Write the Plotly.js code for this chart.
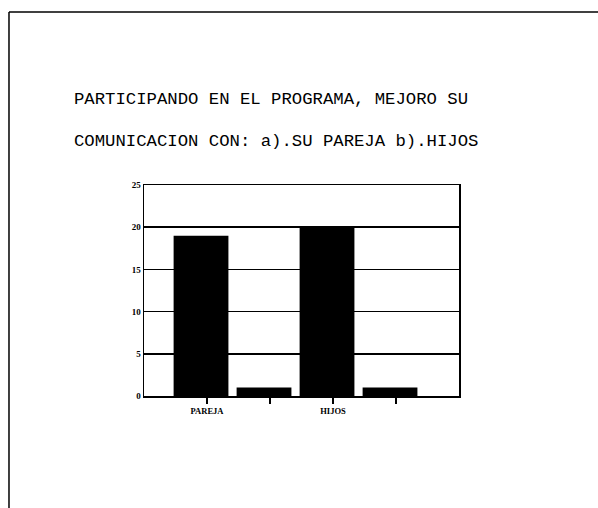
<!DOCTYPE html>
<html><head><meta charset="utf-8">
<script src="https://cdn.plot.ly/plotly-3.0.1.min.js"></script>
<style>html,body{margin:0;padding:0;background:#fff}</style>
</head><body><div id="chart" style="width:598px;height:508px"></div>
<script>
var categories = ['PAREJA', '', 'HIJOS', ''];
var values = [19, 1, 20, 1];
var positions = [0, 1, 2, 3];
var yTicks = [0, 5, 10, 15, 20, 25];
var titleLines = ['PARTICIPANDO EN EL PROGRAMA, MEJORO SU', 'COMUNICACION CON: a).SU PAREJA b).HIJOS'];

var trace = {
  type: 'bar', x: positions, y: values,
  marker: {color: '#000000', line: {color: '#000000', width: 0}},
  width: 0.87, offset: -0.53, hoverinfo: 'none'
};
var layout = {
  width: 598, height: 508,
  margin: {l: 144, r: 139, t: 185, b: 112},
  paper_bgcolor: '#ffffff', plot_bgcolor: '#ffffff',
  showlegend: false,
  xaxis: {
    range: [-1, 4], tickvals: positions, ticktext: categories,
    ticks: 'outside', ticklen: 6, tickwidth: 1.5, tickcolor: '#000',
    showgrid: false, zeroline: false,
    showline: true, mirror: true, linecolor: '#000', linewidth: 1.5,
    tickfont: {family: 'Liberation Serif', size: 8.5, color: '#000', weight: 'bold'}
  },
  yaxis: {
    range: [0, 25], tickvals: yTicks, ticks: '',
    showgrid: true, gridcolor: '#000', gridwidth: 1.5, zeroline: false,
    showline: true, mirror: true, linecolor: '#000', linewidth: 1.5,
    tickfont: {family: 'Liberation Serif', size: 9, color: '#000', weight: 'bold'}
  },
  annotations: [
    {text: titleLines[0], xref: 'paper', yref: 'paper', x: -0.2286, y: 1.403, xanchor: 'left', yanchor: 'middle', showarrow: false,
     font: {family: 'Liberation Mono', size: 17.3, color: '#000'}},
    {text: titleLines[1], xref: 'paper', yref: 'paper', x: -0.2286, y: 1.204, xanchor: 'left', yanchor: 'middle', showarrow: false,
     font: {family: 'Liberation Mono', size: 17.3, color: '#000'}}
  ],
  shapes: [
    {type: 'line', xref: 'paper', yref: 'paper', x0: -0.4286, x1: 1.444, y0: 1.82, y1: 1.82, line: {color: '#000', width: 1.5}},
    {type: 'line', xref: 'paper', yref: 'paper', x0: -0.4286, x1: -0.4286, y0: 1.82, y1: -0.531, line: {color: '#000', width: 1.5}}
  ]
};
Plotly.newPlot('chart', [trace], layout, {displayModeBar: false, staticPlot: true});
</script></body></html>
